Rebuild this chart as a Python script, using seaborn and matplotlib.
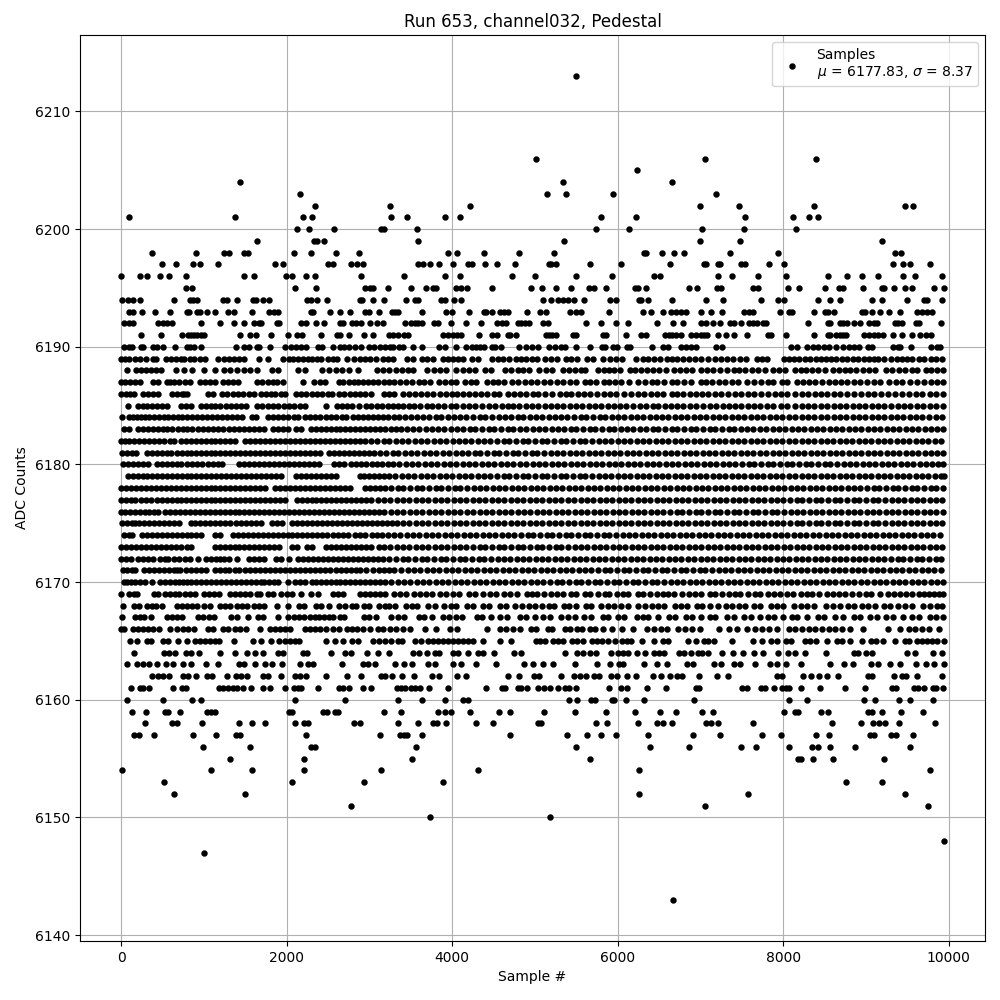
# -*- coding: utf-8 -*-
"""
Pedestal samples of one ADC channel, one list of sample numbers per ADC level.
"""
import pandas as pd
import matplotlib
matplotlib.use('Agg')
import matplotlib.pyplot as plt
import seaborn as sns

# Sample numbers for each ADC level
s_6213 = [5490]
s_6206 = [5017, 7060, 8390]
s_6205 = [6238]
s_6204 = [1435, 5343, 6650]
s_6203 = [2160, 5150, 5380, 5948, 7193]
s_6202 = [2341, 3248, 4215, 6999, 7459, 8366, 9466, 9563]
s_6201 = [93, 1374, 2196, 2305, 3260, 3454, 3913, 4095, 5803, 6226, 7543, 8112, 8305, 8414]
s_6200 = [2124, 2269, 2571, 3135, 3176, 3575, 5742, 6141, 7012, 7531, 8148]
s_6199 = [1640, 2330, 2370, 2450, 3587, 5355, 6999, 7483, 9188]
s_6198 = [371, 903, 1241, 1302, 1483, 1531, 2088, 2293, 2595, 2873, 3949, 4058, 4385, 4808,
          5234, 6322, 6346, 6540, 6685, 6806, 7362, 7942, 9345, 9417]
s_6197 = [492, 661, 866, 951, 1169, 1858, 1955, 2499, 2559, 2777, 2849, 2922, 3587, 3647, 3732,
          3841, 4010, 4191, 4240, 4397, 4542, 4760, 5174, 5198, 5258, 5670, 6044, 6637, 7036,
          7072, 7217, 7241, 7495, 7543, 7822, 8003, 9321, 9441, 9526, 9768]
s_6196 = [0, 226, 310, 467, 576, 782, 1483, 1604, 1991, 2063, 2233, 2341, 2898, 3417, 3913, 4095,
          4723, 5001, 5500, 5936, 6443, 6516, 7217, 7386, 7689, 8027, 8535, 8765, 8946, 9139,
          9441, 9587, 9913]
s_6195 = [782, 854, 2100, 2354, 2946, 3010, 3040, 3224, 3498, 3683, 3768, 3804, 4046, 4107, 4179,
          4481, 4953, 5089, 5258, 5440, 5657, 5718, 5863, 6214, 6250, 6347, 6866, 6963, 7205,
          7253, 7628, 7689, 8051, 8184, 8499, 8668, 8716, 8958, 9188, 9212, 9333, 9466, 9550,
          9816, 9937]
s_6194 = [8, 80, 141, 226, 636, 826, 866, 915, 1229, 1278, 1398, 1592, 1628, 1713, 1785, 2245,
          2293, 2366, 2487, 2885, 2909, 3043, 3176, 3442, 3551, 3587, 3865, 3913, 4022, 4107,
          5101, 5198, 5283, 5343, 5404, 5476, 5597, 5911, 5984, 6262, 6286, 6371, 6661, 7072,
          7277, 7725, 7942, 8003, 8414, 8559, 8680, 9067, 9188, 9490, 9695, 9736, 9913]
s_6193 = [100, 141, 250, 410, 590, 790, 820, 920, 950, 1040, 1130, 1290, 1360, 1580, 1790, 1850,
          1900, 2290, 2320, 2520, 2640, 2760, 2950, 3000, 3110, 3270, 3310, 3350, 3640, 3920,
          4000, 4200, 4390, 4410, 4480, 4580, 4620, 4680, 4900, 5060, 5130, 5420, 5500, 5560,
          5890, 6300, 6400, 6550, 6640, 6700, 6760, 6830, 7000, 7130, 7260, 7520, 7590, 7640,
          7960, 8070, 8100, 8370, 8500, 8540, 8610, 8950, 8990, 9070, 9170, 9280, 9410, 9610,
          9680, 9740, 9800]
s_6192 = [40, 100, 140, 450, 500, 560, 620, 970, 1190, 1360, 1490, 1600, 1670, 1690, 1880, 1910,
          2170, 2230, 2350, 2450, 2650, 2680, 2790, 2840, 2900, 3010, 3090, 3160, 3430, 3500,
          3550, 3590, 3640, 3780, 3830, 3980, 4170, 4350, 4540, 4600, 4650, 4800, 4830, 4880,
          4930, 5100, 5160, 5620, 5800, 5980, 6120, 6470, 6670, 6790, 7000, 7070, 7150, 7230,
          7360, 7410, 7490, 7580, 7640, 7680, 7750, 7790, 8300, 8540, 8560, 8680, 8720, 8770,
          8850, 8930, 9030, 9100, 9130, 9350, 9380, 9440, 9600, 9640, 9910]
s_6191 = [240, 480, 730, 810, 840, 880, 920, 960, 1000, 1440, 1560, 1630, 1810, 2020, 2120, 2190,
          2420, 2610, 2640, 2750, 2940, 3040, 3240, 3290, 3350, 3420, 3460, 3890, 3950, 4010,
          4060, 4110, 4320, 4480, 4540, 4680, 4700, 4770, 5130, 5170, 5210, 5250, 5460, 5490,
          5820, 5860, 6100, 6280, 6340, 6570, 6620, 6660, 6700, 6770, 6880, 6950, 7000, 7040,
          7080, 7210, 7310, 7400, 7560, 7820, 7850, 8030, 8370, 8540, 8570, 8640, 8680, 8720,
          8760, 8980, 9040, 9100, 9150, 9210, 9320, 9430, 9550, 9650, 9730, 9790]
s_6190 = [40, 90, 130, 240, 270, 380, 430, 510, 650, 790, 830, 880, 960, 1390, 1490, 1540, 1640,
          1670, 1800, 1980, 2050, 2110, 2170, 2230, 2380, 2430, 2560, 2640, 2690, 2750, 2820,
          2900, 3000, 3060, 3130, 3190, 3250, 3280, 3360, 3400, 3530, 3640, 3840, 3910, 4050,
          4170, 4240, 4290, 4340, 4390, 4480, 4520, 4590, 4810, 4890, 4960, 5040, 5170, 5240,
          5310, 5360, 5500, 5660, 5810, 5840, 5940, 5990, 6110, 6150, 6410, 6550, 6610, 6770,
          6820, 6890, 6950, 7190, 7260, 8090, 8160, 8290, 8360, 8420, 8490, 8550, 8640, 8720,
          8790, 8850, 8920, 9020, 9070, 9320, 9380, 9410, 9540, 9790, 9860, 9890]
s_6189 = [0, 50, 100, 170, 230, 300, 390, 420, 540, 600, 660, 720, 760, 830, 880, 950, 1010, 1170,
          1240, 1300, 1360, 1430, 1490, 1660, 1780, 1960, 2030, 2080, 2140, 2200, 2260, 2310, 2370,
          2420, 2500, 2560, 2610, 2730, 2810, 2880, 2950, 3010, 3080, 3160, 3220, 3290, 3450, 3530,
          3640, 3700, 3770, 3890, 3950, 4010, 4070, 4130, 4240, 4310, 4480, 4550, 4610, 4690, 4770,
          4830, 4890, 4960, 5020, 5120, 5190, 5260, 5370, 5440, 5510, 5630, 5700, 5820, 5910, 5980,
          6050, 6220, 6300, 6360, 6440, 6510, 6590, 6650, 6720, 6790, 6860, 6930, 7010, 7090, 7170,
          7250, 7320, 7390, 7480, 7550, 7680, 7740, 7800, 8010, 8070, 8130, 8190, 8260, 8320, 8390,
          8450, 8520, 8580, 8640, 8710, 8770, 8840, 8900, 8970, 9030, 9090, 9150, 9220, 9300, 9370,
          9430, 9490, 9560, 9640, 9700, 9780, 9850, 9920]
s_6188 = [68, 180, 240, 300, 360, 420, 480, 660, 760, 860, 1000, 1140, 1240, 1320, 1400, 1480, 1560,
          1640, 1820, 1900, 2140, 2220, 2430, 2510, 2590, 2670, 2750, 2860, 3090, 3160, 3240, 3320,
          3390, 3460, 3530, 3700, 3780, 3850, 3920, 4050, 4130, 4200, 4280, 4400, 4470, 4640, 4710,
          4790, 4860, 4930, 5050, 5130, 5210, 5340, 5410, 5480, 5550, 5610, 5760, 5830, 5890, 5960,
          6030, 6150, 6210, 6280, 6350, 6430, 6500, 6580, 6680, 6750, 6830, 6900, 7010, 7080, 7150,
          7240, 7320, 7400, 7470, 7540, 7620, 7700, 7780, 7870, 7950, 8020, 8140, 8210, 8280, 8350,
          8420, 8500, 8600, 8670, 8740, 8810, 8880, 8960, 9030, 9110, 9240, 9310, 9400, 9470, 9550,
          9620, 9720, 9790, 9860, 9930]
s_6187 = [0, 50, 110, 170, 230, 380, 440, 560, 590, 640, 700, 770, 830, 950, 1010, 1070, 1130, 1230,
          1290, 1350, 1410, 1640, 1700, 1770, 1830, 1880, 1950, 2200, 2330, 2400, 2460, 2630, 2680,
          2750, 2810, 2860, 2920, 2980, 3040, 3100, 3170, 3240, 3300, 3370, 3440, 3520, 3600, 3660,
          3730, 3840, 3910, 3980, 4050, 4160, 4230, 4290, 4420, 4490, 4550, 4630, 4720, 4800, 4880,
          4950, 5020, 5110, 5180, 5270, 5340, 5420, 5500, 5600, 5670, 5740, 5830, 5900, 5970, 6040,
          6130, 6250, 6330, 6410, 6480, 6560, 6650, 6720, 6800, 6880, 7000, 7070, 7140, 7220, 7300,
          7380, 7450, 7560, 7650, 7730, 7810, 7880, 7980, 8050, 8170, 8240, 8310, 8380, 8470, 8550,
          8620, 8700, 8770, 8850, 8930, 9010, 9090, 9170, 9280, 9360, 9440, 9530, 9610, 9700, 9780,
          9860, 9930]
s_6186 = [0, 60, 110, 150, 260, 320, 380, 440, 620, 680, 730, 760, 790, 1050, 1110, 1220, 1280, 1350,
          1410, 1470, 1550, 1610, 1690, 1750, 1810, 1860, 1930, 1980, 2110, 2170, 2230, 2310, 2370,
          2430, 2500, 2550, 2630, 2690, 2770, 2820, 2880, 2950, 3020, 3170, 3240, 3300, 3410, 3480,
          3550, 3620, 3690, 3770, 3850, 3920, 4000, 4060, 4130, 4200, 4280, 4350, 4420, 4500, 4570,
          4680, 4750, 4820, 4890, 4970, 5040, 5120, 5200, 5300, 5370, 5440, 5520, 5590, 5670, 5750,
          5830, 5910, 5980, 6080, 6160, 6240, 6320, 6400, 6470, 6550, 6650, 6720, 6790, 6870, 6950,
          7020, 7090, 7170, 7250, 7330, 7420, 7490, 7570, 7650, 7730, 7820, 7900, 7970, 8050, 8140,
          8220, 8300, 8380, 8450, 8530, 8610, 8690, 8770, 8860, 8940, 9020, 9100, 9180, 9270, 9350,
          9440, 9520, 9600, 9680, 9770, 9850, 9930]
s_6185 = [80, 200, 260, 310, 370, 430, 490, 550, 720, 780, 840, 970, 1030, 1090, 1140, 1200, 1270,
          1330, 1390, 1450, 1510, 1640, 1700, 1770, 1830, 1900, 1970, 2030, 2090, 2160, 2220, 2480,
          2610, 2670, 2730, 2790, 2870, 2960, 3020, 3090, 3150, 3220, 3280, 3340, 3410, 3480, 3540,
          3610, 3690, 3760, 3830, 3900, 3980, 4050, 4130, 4200, 4280, 4360, 4440, 4520, 4600, 4670,
          4740, 4810, 4890, 4960, 5040, 5120, 5190, 5270, 5340, 5420, 5500, 5570, 5650, 5730, 5800,
          5880, 5950, 6030, 6100, 6180, 6270, 6340, 6420, 6490, 6570, 6640, 6720, 6790, 6870, 6950,
          7030, 7110, 7190, 7270, 7340, 7420, 7490, 7570, 7650, 7720, 7800, 7880, 7970, 8050, 8140,
          8220, 8300, 8370, 8450, 8530, 8610, 8680, 8760, 8840, 8910, 8990, 9070, 9150, 9220, 9300,
          9380, 9460, 9530, 9610, 9690, 9770, 9850, 9930]
s_6184 = [10, 90, 140, 190, 240, 290, 340, 400, 460, 520, 570, 630, 690, 740, 800, 860, 920, 980,
          1040, 1100, 1160, 1220, 1280, 1340, 1400, 1460, 1580, 1630, 1770, 1830, 1900, 1950, 2010,
          2090, 2140, 2220, 2280, 2340, 2400, 2470, 2530, 2590, 2670, 2720, 2800, 2860, 2920, 2980,
          3040, 3100, 3160, 3230, 3300, 3360, 3430, 3500, 3580, 3650, 3720, 3800, 3870, 3950, 4020,
          4100, 4170, 4250, 4330, 4400, 4480, 4560, 4640, 4710, 4790, 4860, 4940, 5010, 5090, 5170,
          5240, 5320, 5390, 5470, 5550, 5620, 5700, 5780, 5850, 5930, 6000, 6080, 6160, 6230, 6310,
          6390, 6460, 6540, 6610, 6690, 6770, 6840, 6920, 6990, 7070, 7150, 7220, 7300, 7380, 7450,
          7530, 7610, 7680, 7760, 7840, 7910, 7990, 8070, 8140, 8220, 8300, 8370, 8450, 8530, 8610,
          8680, 8760, 8840, 8910, 8990, 9070, 9140, 9220, 9300, 9370, 9450, 9530, 9600, 9680, 9760,
          9840, 9920]
s_6183 = [40, 100, 200, 270, 330, 390, 440, 500, 560, 620, 690, 750, 800, 860, 930, 990, 1050, 1110,
          1170, 1230, 1300, 1360, 1420, 1480, 1550, 1610, 1670, 1730, 1830, 1900, 1960, 2020, 2110,
          2170, 2290, 2350, 2410, 2470, 2530, 2590, 2650, 2710, 2770, 2830, 2890, 2950, 3010, 3070,
          3130, 3190, 3260, 3320, 3380, 3450, 3530, 3600, 3680, 3750, 3830, 3900, 3980, 4060, 4130,
          4210, 4280, 4360, 4440, 4510, 4590, 4670, 4740, 4820, 4890, 4970, 5050, 5120, 5200, 5280,
          5350, 5430, 5500, 5580, 5660, 5730, 5810, 5890, 5960, 6040, 6110, 6190, 6270, 6340, 6420,
          6490, 6570, 6650, 6720, 6800, 6880, 6950, 7030, 7110, 7180, 7260, 7340, 7410, 7490, 7560,
          7640, 7720, 7790, 7870, 7950, 8020, 8100, 8180, 8250, 8330, 8410, 8480, 8560, 8640, 8710,
          8790, 8870, 8940, 9020, 9100, 9170, 9250, 9330, 9400, 9480, 9560, 9630, 9710, 9790, 9860,
          9930]
s_6182 = [0, 50, 100, 160, 220, 280, 340, 400, 460, 520, 590, 640, 720, 780, 840, 900, 960, 1020,
          1080, 1140, 1200, 1260, 1320, 1380, 1500, 1560, 1620, 1680, 1740, 1800, 1860, 1920, 1980,
          2040, 2100, 2160, 2220, 2280, 2340, 2400, 2460, 2520, 2580, 2640, 2700, 2760, 2820, 2880,
          2950, 3020, 3090, 3170, 3240, 3320, 3390, 3470, 3550, 3620, 3700, 3780, 3850, 3930, 4010,
          4080, 4160, 4230, 4310, 4390, 4460, 4540, 4620, 4690, 4770, 4850, 4920, 5000, 5080, 5150,
          5230, 5310, 5380, 5460, 5540, 5610, 5690, 5770, 5840, 5920, 6000, 6070, 6150, 6230, 6300,
          6380, 6460, 6530, 6610, 6690, 6760, 6840, 6920, 6990, 7070, 7150, 7220, 7300, 7380, 7450,
          7530, 7610, 7680, 7760, 7840, 7910, 7990, 8070, 8140, 8220, 8300, 8370, 8450, 8530, 8600,
          8680, 8760, 8830, 8910, 8990, 9060, 9140, 9220, 9290, 9370, 9450, 9520, 9600, 9680, 9750,
          9830, 9910]
s_6181 = [10, 70, 130, 180, 310, 370, 430, 490, 550, 600, 670, 730, 790, 850, 910, 960, 1020, 1080,
          1140, 1200, 1260, 1320, 1380, 1440, 1500, 1560, 1620, 1680, 1740, 1800, 1860, 1920, 1980,
          2040, 2100, 2160, 2220, 2280, 2340, 2400, 2510, 2570, 2630, 2690, 2750, 2810, 2870, 2930,
          2990, 3060, 3130, 3200, 3280, 3350, 3430, 3500, 3580, 3660, 3730, 3810, 3890, 3960, 4040,
          4120, 4190, 4270, 4340, 4420, 4500, 4570, 4650, 4730, 4800, 4880, 4960, 5030, 5110, 5190,
          5260, 5340, 5420, 5490, 5570, 5650, 5720, 5800, 5880, 5950, 6030, 6110, 6180, 6260, 6340,
          6410, 6490, 6570, 6640, 6720, 6800, 6870, 6950, 7030, 7100, 7180, 7260, 7330, 7410, 7490,
          7560, 7640, 7720, 7790, 7870, 7950, 8020, 8100, 8180, 8250, 8330, 8410, 8480, 8560, 8640,
          8710, 8790, 8870, 8940, 9020, 9100, 9170, 9250, 9330, 9400, 9480, 9560, 9630, 9710, 9790,
          9860, 9930]
s_6180 = [20, 80, 140, 200, 260, 320, 430, 490, 550, 610, 670, 720, 790, 860, 920, 980, 1050, 1110,
          1170, 1220, 1430, 1490, 1550, 1610, 1670, 1730, 1790, 1850, 1910, 1970, 2030, 2090, 2150,
          2210, 2270, 2330, 2390, 2570, 2630, 2690, 2780, 2840, 2900, 2960, 3030, 3090, 3150, 3220,
          3290, 3360, 3440, 3510, 3590, 3670, 3740, 3820, 3900, 3970, 4050, 4130, 4200, 4280, 4360,
          4430, 4510, 4590, 4660, 4740, 4820, 4890, 4970, 5050, 5120, 5200, 5280, 5350, 5430, 5510,
          5580, 5660, 5740, 5810, 5890, 5970, 6040, 6120, 6200, 6270, 6350, 6430, 6500, 6580, 6660,
          6730, 6810, 6890, 6960, 7040, 7120, 7190, 7270, 7350, 7420, 7500, 7580, 7650, 7730, 7810,
          7880, 7960, 8040, 8110, 8190, 8270, 8340, 8420, 8500, 8570, 8650, 8730, 8800, 8880, 8960,
          9030, 9110, 9190, 9260, 9340, 9420, 9490, 9570, 9650, 9720, 9800, 9870, 9930]
s_6179 = [80, 140, 200, 260, 310, 370, 430, 490, 550, 610, 670, 730, 790, 850, 910, 970, 1030, 1090,
          1150, 1210, 1270, 1330, 1390, 1450, 1510, 1570, 1630, 1690, 1750, 1810, 1870, 1930, 2110,
          2170, 2230, 2290, 2350, 2410, 2470, 2530, 2590, 2880, 2940, 3000, 3060, 3120, 3180, 3240,
          3310, 3390, 3470, 3540, 3620, 3700, 3770, 3850, 3930, 4000, 4080, 4160, 4230, 4310, 4390,
          4460, 4540, 4620, 4690, 4770, 4850, 4920, 5000, 5080, 5150, 5230, 5310, 5380, 5460, 5540,
          5610, 5690, 5770, 5840, 5920, 6000, 6070, 6150, 6230, 6300, 6380, 6460, 6530, 6610, 6690,
          6760, 6840, 6920, 6990, 7070, 7150, 7220, 7300, 7380, 7450, 7530, 7610, 7680, 7760, 7840,
          7910, 7990, 8070, 8140, 8220, 8300, 8370, 8450, 8530, 8600, 8680, 8760, 8830, 8910, 8990,
          9060, 9140, 9220, 9290, 9370, 9450, 9520, 9600, 9680, 9750, 9830, 9900, 9940]
s_6178 = [0, 60, 120, 180, 240, 300, 360, 420, 480, 540, 600, 660, 720, 780, 840, 900, 960, 1020,
          1080, 1140, 1200, 1260, 1320, 1380, 1440, 1500, 1560, 1620, 1680, 1740, 1860, 1920, 1980,
          2040, 2100, 2160, 2220, 2280, 2340, 2400, 2460, 2520, 2580, 2640, 2700, 2760, 2950, 3010,
          3070, 3130, 3190, 3260, 3340, 3410, 3490, 3570, 3640, 3720, 3800, 3870, 3950, 4030, 4100,
          4180, 4260, 4330, 4410, 4490, 4560, 4640, 4720, 4790, 4870, 4950, 5020, 5100, 5180, 5250,
          5330, 5410, 5480, 5560, 5640, 5710, 5790, 5870, 5940, 6020, 6100, 6170, 6250, 6330, 6400,
          6480, 6560, 6630, 6710, 6790, 6860, 6940, 7020, 7090, 7170, 7250, 7320, 7400, 7480, 7550,
          7630, 7710, 7780, 7860, 7940, 8010, 8090, 8170, 8240, 8320, 8400, 8470, 8550, 8630, 8700,
          8780, 8860, 8930, 9010, 9090, 9160, 9240, 9320, 9390, 9470, 9550, 9620, 9700, 9780, 9850,
          9930]
s_6177 = [0, 60, 120, 170, 240, 300, 360, 430, 490, 550, 610, 670, 720, 780, 840, 900, 960, 1020,
          1080, 1140, 1200, 1260, 1320, 1380, 1440, 1500, 1560, 1620, 1680, 1740, 1800, 1860, 1920,
          1980, 2120, 2180, 2240, 2300, 2360, 2420, 2480, 2540, 2600, 2660, 2720, 2780, 2840, 2900,
          2960, 3020, 3100, 3170, 3250, 3330, 3400, 3480, 3560, 3630, 3710, 3790, 3860, 3940, 4020,
          4090, 4170, 4250, 4320, 4400, 4480, 4550, 4630, 4710, 4780, 4860, 4940, 5010, 5090, 5170,
          5240, 5320, 5400, 5470, 5550, 5630, 5700, 5780, 5860, 5930, 6010, 6090, 6160, 6240, 6320,
          6390, 6470, 6550, 6620, 6700, 6780, 6850, 6930, 7010, 7080, 7160, 7240, 7310, 7390, 7470,
          7540, 7620, 7700, 7770, 7850, 7930, 8000, 8080, 8160, 8230, 8310, 8390, 8460, 8540, 8620,
          8690, 8770, 8850, 8920, 9000, 9080, 9150, 9230, 9310, 9380, 9460, 9540, 9610, 9690, 9770,
          9840, 9920]
s_6176 = [0, 50, 110, 170, 230, 290, 340, 400, 450, 530, 590, 650, 710, 770, 830, 890, 950, 1010,
          1070, 1130, 1190, 1250, 1310, 1370, 1430, 1490, 1550, 1610, 1670, 1730, 1790, 1850, 1910,
          1970, 2030, 2090, 2150, 2210, 2270, 2330, 2390, 2450, 2510, 2570, 2630, 2690, 2750, 2810,
          2870, 2930, 2990, 3050, 3110, 3180, 3260, 3330, 3410, 3490, 3560, 3640, 3720, 3790, 3870,
          3950, 4020, 4100, 4180, 4250, 4330, 4410, 4480, 4560, 4640, 4710, 4790, 4870, 4940, 5020,
          5100, 5170, 5250, 5330, 5400, 5480, 5560, 5630, 5710, 5790, 5860, 5940, 6020, 6090, 6170,
          6250, 6320, 6400, 6480, 6550, 6630, 6710, 6780, 6860, 6940, 7010, 7090, 7170, 7240, 7320,
          7400, 7470, 7550, 7630, 7700, 7780, 7860, 7930, 8010, 8090, 8160, 8240, 8320, 8390, 8470,
          8550, 8620, 8700, 8780, 8850, 8930, 9010, 9080, 9160, 9240, 9310, 9390, 9470, 9540, 9620,
          9700, 9770, 9850, 9930]
s_6175 = [10, 70, 130, 170, 220, 280, 340, 400, 460, 520, 580, 640, 700, 840, 890, 950, 1010, 1070,
          1130, 1190, 1250, 1310, 1390, 1450, 1510, 1570, 1630, 1690, 1820, 1880, 1940, 2060, 2120,
          2180, 2240, 2300, 2370, 2430, 2490, 2550, 2610, 2670, 2730, 2790, 2850, 2910, 2970, 3030,
          3090, 3150, 3210, 3270, 3330, 3400, 3480, 3560, 3630, 3710, 3790, 3860, 3940, 4020, 4090,
          4170, 4250, 4320, 4400, 4480, 4550, 4630, 4710, 4780, 4860, 4940, 5010, 5090, 5170, 5240,
          5320, 5400, 5470, 5550, 5630, 5700, 5780, 5860, 5930, 6010, 6090, 6160, 6240, 6320, 6390,
          6470, 6550, 6620, 6700, 6780, 6850, 6930, 7010, 7080, 7160, 7240, 7310, 7390, 7470, 7540,
          7620, 7700, 7770, 7850, 7930, 8000, 8080, 8160, 8230, 8310, 8390, 8460, 8540, 8620, 8690,
          8770, 8850, 8920, 9000, 9080, 9150, 9230, 9310, 9380, 9460, 9540, 9610, 9690, 9770, 9840,
          9920]
s_6174 = [30, 90, 130, 250, 310, 370, 430, 490, 550, 610, 670, 730, 790, 850, 910, 970, 1130, 1200,
          1350, 1410, 1470, 1530, 1590, 1650, 1710, 1770, 1830, 1890, 1950, 2010, 2070, 2130, 2190,
          2250, 2310, 2370, 2430, 2490, 2560, 2620, 2680, 2740, 2830, 2890, 2950, 3030, 3090, 3150,
          3220, 3300, 3370, 3450, 3530, 3600, 3680, 3760, 3830, 3910, 3990, 4060, 4140, 4220, 4290,
          4370, 4450, 4520, 4600, 4680, 4750, 4830, 4910, 4980, 5060, 5140, 5210, 5290, 5370, 5440,
          5520, 5600, 5670, 5750, 5830, 5900, 5980, 6060, 6130, 6210, 6290, 6360, 6440, 6520, 6590,
          6670, 6750, 6820, 6900, 6980, 7050, 7130, 7210, 7280, 7360, 7440, 7510, 7590, 7670, 7740,
          7820, 7900, 7970, 8050, 8130, 8200, 8280, 8360, 8430, 8510, 8590, 8660, 8740, 8820, 8890,
          8970, 9050, 9120, 9200, 9280, 9350, 9430, 9510, 9580, 9660, 9740, 9810, 9890]
s_6173 = [0, 60, 120, 180, 240, 300, 360, 420, 480, 540, 600, 660, 720, 790, 850, 1130, 1190, 1250,
          1310, 1370, 1430, 1490, 1550, 1610, 1670, 1730, 1790, 1850, 1910, 2060, 2120, 2240, 2310,
          2480, 2540, 2600, 2660, 2720, 2780, 2840, 2900, 2960, 3020, 3120, 3180, 3250, 3330, 3410,
          3480, 3560, 3640, 3710, 3790, 3870, 3940, 4020, 4100, 4170, 4250, 4330, 4400, 4480, 4560,
          4630, 4710, 4790, 4860, 4940, 5020, 5090, 5170, 5250, 5320, 5400, 5480, 5550, 5630, 5710,
          5780, 5860, 5940, 6010, 6090, 6170, 6240, 6320, 6400, 6470, 6550, 6630, 6700, 6780, 6860,
          6930, 7010, 7090, 7160, 7240, 7320, 7390, 7470, 7550, 7620, 7700, 7780, 7850, 7930, 8010,
          8080, 8160, 8240, 8310, 8390, 8470, 8540, 8620, 8700, 8770, 8850, 8930, 9000, 9080, 9160,
          9230, 9310, 9390, 9460, 9540, 9620, 9690, 9770, 9850, 9920]
s_6172 = [0, 60, 120, 200, 260, 320, 380, 470, 530, 570, 640, 700, 770, 830, 930, 1030, 1090, 1150,
          1200, 1240, 1300, 1400, 1550, 1610, 1670, 1730, 1870, 1930, 2030, 2140, 2200, 2260, 2320,
          2380, 2440, 2500, 2560, 2620, 2680, 2740, 2800, 2860, 2920, 2980, 3040, 3100, 3160, 3240,
          3320, 3400, 3470, 3550, 3630, 3700, 3780, 3860, 3930, 4010, 4090, 4160, 4240, 4320, 4390,
          4470, 4550, 4620, 4700, 4780, 4850, 4930, 5010, 5080, 5160, 5240, 5310, 5390, 5470, 5540,
          5620, 5700, 5770, 5850, 5930, 6000, 6080, 6160, 6230, 6310, 6390, 6460, 6540, 6620, 6690,
          6770, 6850, 6920, 7000, 7080, 7150, 7230, 7310, 7380, 7460, 7540, 7610, 7690, 7770, 7840,
          7920, 8000, 8070, 8150, 8230, 8300, 8380, 8460, 8530, 8610, 8690, 8760, 8840, 8920, 8990,
          9070, 9150, 9220, 9300, 9380, 9450, 9530, 9610, 9680, 9760, 9840, 9910]
s_6171 = [20, 70, 130, 170, 280, 340, 400, 460, 520, 580, 640, 670, 710, 780, 840, 900, 960, 1020,
          1130, 1190, 1250, 1300, 1380, 1430, 1500, 1560, 1620, 1680, 1740, 1800, 1860, 1920, 1980,
          2040, 2100, 2160, 2220, 2280, 2340, 2400, 2460, 2520, 2600, 2660, 2720, 2780, 2840, 2890,
          2960, 3040, 3110, 3170, 3240, 3300, 3380, 3460, 3540, 3610, 3690, 3770, 3840, 3920, 4000,
          4070, 4150, 4230, 4300, 4380, 4460, 4530, 4610, 4690, 4760, 4840, 4920, 4990, 5070, 5150,
          5220, 5300, 5380, 5450, 5530, 5610, 5680, 5760, 5840, 5910, 5990, 6070, 6140, 6220, 6300,
          6370, 6450, 6530, 6600, 6680, 6760, 6830, 6910, 6990, 7060, 7140, 7220, 7290, 7370, 7450,
          7520, 7600, 7680, 7750, 7830, 7910, 7980, 8060, 8140, 8210, 8290, 8370, 8440, 8520, 8600,
          8670, 8750, 8830, 8900, 8980, 9060, 9130, 9210, 9290, 9360, 9440, 9520, 9590, 9670, 9750,
          9820, 9900]
s_6170 = [30, 70, 120, 170, 230, 290, 370, 470, 530, 590, 650, 700, 750, 800, 850, 910, 970, 1030,
          1090, 1150, 1210, 1270, 1330, 1390, 1450, 1510, 1570, 1630, 1690, 1730, 1790, 1850, 1890,
          2010, 2100, 2160, 2220, 2300, 2360, 2420, 2480, 2540, 2600, 2650, 2710, 2770, 2830, 2890,
          2950, 3010, 3070, 3130, 3190, 3260, 3340, 3420, 3490, 3570, 3650, 3720, 3800, 3880, 3950,
          4030, 4110, 4180, 4260, 4340, 4410, 4490, 4570, 4640, 4720, 4800, 4870, 4950, 5030, 5100,
          5180, 5260, 5330, 5410, 5490, 5560, 5640, 5720, 5790, 5870, 5950, 6020, 6100, 6180, 6250,
          6330, 6410, 6480, 6560, 6640, 6710, 6790, 6870, 6940, 7020, 7100, 7170, 7250, 7330, 7400,
          7480, 7560, 7630, 7710, 7790, 7860, 7940, 8020, 8090, 8170, 8250, 8320, 8400, 8480, 8550,
          8630, 8710, 8780, 8860, 8940, 9010, 9090, 9170, 9240, 9320, 9400, 9470, 9550, 9630, 9700,
          9780, 9860, 9930]
s_6169 = [0, 90, 150, 190, 400, 450, 530, 590, 650, 700, 770, 830, 890, 1000, 1060, 1120, 1180, 1320,
          1370, 1440, 1500, 1560, 1640, 1680, 1780, 1830, 1930, 2000, 2060, 2170, 2290, 2380, 2560,
          2620, 2680, 2880, 2950, 3010, 3070, 3130, 3190, 3300, 3370, 3440, 3540, 3610, 3680, 3760,
          3850, 3920, 4010, 4080, 4200, 4280, 4370, 4460, 4530, 4620, 4700, 4780, 4900, 4960, 5030,
          5110, 5190, 5260, 5340, 5430, 5490, 5600, 5660, 5760, 5840, 5900, 5990, 6060, 6120, 6240,
          6310, 6390, 6470, 6550, 6610, 6680, 6780, 6860, 6930, 7010, 7110, 7170, 7260, 7340, 7420,
          7480, 7570, 7660, 7720, 7810, 7890, 7960, 8040, 8120, 8210, 8290, 8350, 8430, 8530, 8600,
          8670, 8750, 8830, 8920, 9000, 9060, 9170, 9260, 9340, 9410, 9480, 9560, 9640, 9700, 9760,
          9820, 9880, 9930]
s_6168 = [20, 160, 210, 310, 370, 420, 490, 680, 730, 790, 860, 920, 1000, 1070, 1200, 1260, 1320,
          1400, 1460, 1520, 1610, 1670, 1730, 1880, 2020, 2150, 2210, 2350, 2410, 2510, 2630, 2700,
          2790, 2840, 2930, 3000, 3120, 3190, 3240, 3310, 3440, 3520, 3580, 3710, 3790, 3900, 3980,
          4050, 4180, 4250, 4370, 4440, 4580, 4650, 4760, 4840, 4930, 5000, 5090, 5170, 5230, 5350,
          5410, 5500, 5620, 5680, 5800, 5880, 5960, 6040, 6120, 6250, 6330, 6410, 6490, 6560, 6690,
          6760, 6840, 6960, 7020, 7120, 7210, 7310, 7380, 7470, 7540, 7650, 7720, 7850, 7930, 8000,
          8130, 8210, 8290, 8370, 8520, 8600, 8680, 8780, 8860, 8950, 9020, 9110, 9220, 9290, 9390,
          9470, 9560, 9690, 9770, 9860, 9920]
s_6167 = [10, 170, 230, 280, 360, 560, 620, 680, 740, 930, 990, 1060, 1120, 1330, 1400, 1530, 1650,
          1720, 1900, 2010, 2090, 2150, 2210, 2280, 2340, 2390, 2450, 2510, 2560, 2640, 2690, 2940,
          3000, 3080, 3260, 3340, 3420, 3600, 3660, 3750, 3890, 3960, 4050, 4120, 4300, 4360, 4470,
          4580, 4660, 4820, 4890, 5000, 5100, 5180, 5320, 5400, 5480, 5590, 5680, 5820, 5880, 6000,
          6080, 6230, 6300, 6370, 6490, 6620, 6690, 6830, 6900, 7000, 7120, 7180, 7320, 7400, 7530,
          7610, 7720, 7810, 7890, 8000, 8100, 8170, 8290, 8420, 8490, 8620, 8720, 8860, 8930, 9050,
          9130, 9240, 9330, 9450, 9550, 9640, 9770, 9850, 9930]
s_6166 = [0, 40, 141, 202, 262, 322, 383, 463, 592, 673, 745, 806, 879, 1048, 1108, 1229, 1290, 1370,
          1431, 1511, 1676, 1793, 1854, 1914, 1975, 2035, 2217, 2277, 2337, 2398, 2478, 2559, 2632,
          2728, 2789, 2849, 2922, 3002, 3103, 3164, 3244, 3325, 3405, 3486, 3668, 3809, 3970, 4058,
          4421, 4574, 4655, 4735, 4824, 4957, 5017, 5162, 5202, 5363, 5424, 5504, 5565, 5666, 5726,
          5827, 5927, 6048, 6189, 6359, 6439, 6520, 6600, 6733, 6814, 6894, 6999, 7229, 7350, 7435,
          7560, 7660, 7741, 7822, 7918, 8063, 8144, 8225, 8305, 8386, 8467, 8547, 8628, 8708, 8809,
          8958, 9260, 9405, 9514, 9595, 9675, 9756, 9877]
s_6165 = [105, 189, 310, 363, 504, 564, 685, 794, 887, 947, 1008, 1068, 1128, 1177, 1358, 1592, 1689,
          1809, 1906, 1979, 2035, 2096, 2148, 2474, 2583, 2680, 2789, 2861, 3043, 3115, 3188, 3260,
          3345, 3397, 3546, 3627, 3708, 3768, 3829, 3889, 3949, 4010, 4070, 4131, 4191, 4252, 4373,
          4574, 4711, 5017, 5061, 5121, 5222, 5283, 5343, 5444, 5504, 5585, 5686, 5746, 5807, 5887,
          5968, 6048, 6109, 6161, 6298, 6443, 6552, 6613, 6854, 6943, 7036, 7096, 7157, 7386, 7640,
          7737, 7850, 7930, 8027, 8092, 8257, 8317, 8390, 8523, 8648, 8708, 8801, 8946, 9055, 9115,
          9200, 9345, 9466, 9514, 9615, 9675, 9736, 9796, 9856, 9937]
s_6164 = [153, 516, 576, 649, 786, 842, 939, 1193, 1374, 1519, 1616, 1713, 1894, 1955, 2196, 2245,
          2535, 2704, 2777, 2970, 3103, 3236, 3526, 3599, 3696, 3792, 3841, 4010, 4070, 4191, 4312,
          4373, 4506, 4747, 4832, 5367, 5512, 5585, 5670, 5742, 5923, 6008, 6069, 6129, 6230, 6334,
          6443, 6504, 6564, 6745, 6806, 6891, 6975, 7012, 7096, 7265, 7398, 7519, 7652, 7749, 7942,
          8051, 8136, 8257, 8511, 8849, 8898, 8994, 9067, 9490, 9587, 9804, 9913]
s_6163 = [69, 189, 262, 334, 431, 536, 625, 745, 846, 1020, 1169, 1423, 1483, 1616, 1737, 1822, 1942,
          2156, 2257, 2317, 2668, 2922, 2982, 3067, 3309, 3417, 3514, 3708, 3788, 4010, 4107, 4288,
          4534, 4868, 4977, 5101, 5222, 5488, 5754, 5911, 6020, 6069, 6318, 6480, 6600, 6842, 6915,
          7157, 7253, 7410, 7471, 7660, 7834, 7930, 8027, 8208, 8559, 8728, 8837, 9055, 9139, 9285,
          9405, 9599, 9720, 9816, 9937]
s_6162 = [371, 443, 504, 576, 745, 806, 899, 1036, 1092, 1278, 1390, 1451, 1519, 1713, 1773, 1934,
          2100, 2156, 2237, 2470, 2732, 2898, 3139, 3188, 3272, 3393, 3538, 3756, 3841, 4058, 4171,
          4675, 4808, 4989, 5053, 5319, 5476, 5549, 5621, 5718, 5778, 5923, 5996, 6117, 6226, 6431,
          6528, 6637, 6721, 6782, 6987, 7205, 7338, 7930, 7979, 8233, 8329, 8426, 8523, 8656, 9018,
          9067, 9333, 9430, 9478, 9611, 9913]
s_6161 = [117, 226, 262, 334, 625, 733, 782, 1181, 1229, 1290, 1350, 1398, 1471, 1568, 1713, 1797,
          1979, 2088, 2136, 2176, 2378, 2632, 2680, 2752, 2922, 3018, 3333, 3381, 3430, 3502, 3551,
          3611, 3720, 3949, 4409, 4602, 4638, 4796, 4832, 4905, 5037, 5113, 5186, 5283, 5367, 5416,
          5500, 5899, 6044, 6117, 6359, 6588, 6951, 6987, 7507, 7556, 7725, 7785, 7882, 7979, 8027,
          8063, 8208, 8438, 8740, 8982, 9309, 9357, 9575, 9623, 9695, 9804, 9841, 9925]
s_6160 = [69, 504, 854, 963, 2100, 2704, 3345, 3635, 3913, 4131, 4191, 5416, 5512, 5682, 5730, 5936,
          5960, 6105, 6322, 6927, 8063, 8281, 8970, 9103, 9393, 9526, 9804]
s_6159 = [129, 298, 528, 564, 709, 1036, 1084, 1132, 2027, 2063, 2438, 2487, 2583, 2619, 3176, 3381,
          3828, 3913, 3986, 4215, 4566, 4699, 5113, 5488, 5863, 6214, 6516, 6709, 7012, 7145, 8003,
          8136, 8172, 8450, 8535, 9018, 9067, 9188, 9417, 9683]
s_6158 = [286, 613, 673, 975, 1423, 1580, 1737, 2100, 2208, 2257, 2813, 2885, 3345, 3587, 3768, 3816,
          3925, 4288, 4493, 5037, 5077, 5742, 5875, 6250, 6480, 6552, 6661, 7072, 7132, 7217, 7628,
          8583, 8934, 9079, 9151, 9224, 9393, 9829]
s_6157 = [153, 214, 395, 866, 1145, 1386, 1435, 2233, 3127, 3369, 3417, 3454, 3635, 4699, 5391, 5633,
          5803, 5984, 6371, 6915, 7241, 7737, 7967, 8390, 8547, 9043, 9091, 9297, 9357, 9563]
s_6156 = [987, 1556, 2293, 2341, 3563, 5500, 6395, 6866, 7495, 7676, 8063, 8341, 8414, 8559, 8861,
          9526]
s_6155 = [1314, 2208, 3514, 5670, 8172, 8208, 8353, 8595, 9212]
s_6154 = [8, 1084, 1580, 2208, 3139, 4312, 6262, 9768]
s_6153 = [516, 2063, 2934, 3889, 8752, 9188]
s_6152 = [637, 1495, 6262, 7568, 9466]
s_6151 = [2777, 7060, 9744]
s_6150 = [3732, 5186]
s_6148 = [9937]
s_6147 = [1000]
s_6143 = [6673]

adc_levels = [6213, 6206, 6205, 6204, 6203, 6202, 6201, 6200, 6199, 6198, 6197, 6196, 6195, 6194,
              6193, 6192, 6191, 6190, 6189, 6188, 6187, 6186, 6185, 6184, 6183, 6182, 6181, 6180,
              6179, 6178, 6177, 6176, 6175, 6174, 6173, 6172, 6171, 6170, 6169, 6168, 6167, 6166,
              6165, 6164, 6163, 6162, 6161, 6160, 6159, 6158, 6157, 6156, 6155, 6154, 6153, 6152,
              6151, 6150, 6148, 6147, 6143]
sample_lists = [s_6213, s_6206, s_6205, s_6204, s_6203, s_6202, s_6201, s_6200, s_6199, s_6198,
                s_6197, s_6196, s_6195, s_6194, s_6193, s_6192, s_6191, s_6190, s_6189, s_6188,
                s_6187, s_6186, s_6185, s_6184, s_6183, s_6182, s_6181, s_6180, s_6179, s_6178,
                s_6177, s_6176, s_6175, s_6174, s_6173, s_6172, s_6171, s_6170, s_6169, s_6168,
                s_6167, s_6166, s_6165, s_6164, s_6163, s_6162, s_6161, s_6160, s_6159, s_6158,
                s_6157, s_6156, s_6155, s_6154, s_6153, s_6152, s_6151, s_6150, s_6148, s_6147,
                s_6143]

# Flat table for seaborn
frames = []
for level, samples in zip(adc_levels, sample_lists):
    frames.append(pd.DataFrame({'sample': samples, 'adc': level}))
data = pd.concat(frames, ignore_index=True)

fig, ax = plt.subplots(figsize=(10, 10), dpi=100)
sns.scatterplot(data=data, x='sample', y='adc', marker='.', color='black', s=46,
                linewidth=1.2, edgecolor='black', zorder=2, ax=ax,
                label='Samples\n$\\mu$ = 6177.83, $\\sigma$ = 8.37')
ax.set_title('Run 653, channel032, Pedestal')
ax.set_xlabel('Sample #')
ax.set_ylabel('ADC Counts')
ax.grid(True)
ax.legend(loc='upper right')
fig.subplots_adjust(left=0.08, right=0.985, top=0.965, bottom=0.059)
fig.savefig('out.png', dpi=100)
